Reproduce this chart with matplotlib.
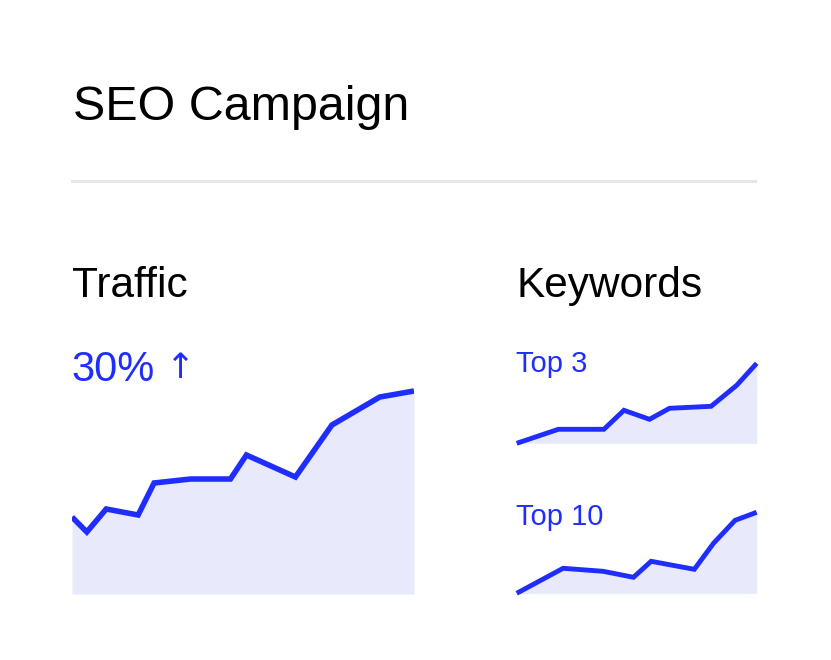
import matplotlib
matplotlib.use("Agg")
import matplotlib.pyplot as plt
from matplotlib.lines import Line2D

plt.rcParams['font.family'] = ['Liberation Sans', 'DejaVu Sans']

# ---- data ----
title = "SEO Campaign"
traffic_label = "Traffic"
traffic_change = "30%"
traffic_arrow = "↑"
keywords_label = "Keywords"

traffic_days = [0, 1.3, 3.0, 5.8, 7.2, 10.4, 13.9, 15.3, 19.6, 22.8, 27.0, 30]
traffic_vals = [77, 62, 85, 79, 111, 115, 115, 139, 117, 169, 197, 203]

top3_label = "Top 3"
top3_days = [0, 5.2, 10.9, 13.4, 16.6, 19.1, 24.3, 27.5, 30]
top3_vals = [0, 14, 14, 33, 24, 35, 37, 58, 80]

top10_label = "Top 10"
top10_days = [0, 5.8, 10.8, 14.6, 16.8, 22.2, 24.6, 27.3, 30]
top10_vals = [0, 25, 22, 16, 32, 24, 50, 73, 81]

BLUE = '#1f2eff'
FILL = '#e8e9fa'

W, H = 831, 660
fig = plt.figure(figsize=(W / 100, H / 100), dpi=100)
fig.patch.set_facecolor('white')


def px_axes(x0, x1, ybottom, ytop):
    return fig.add_axes([x0 / W, (H - ybottom) / H, (x1 - x0) / W, (ybottom - ytop) / H])


def spark(ax, xs, ys, ymax, lw, clip):
    ax.fill_between(xs, 0, ys, color=FILL, linewidth=0)
    ax.plot(xs, ys, color=BLUE, linewidth=lw, solid_capstyle='butt',
            solid_joinstyle='miter', clip_on=clip)
    ax.set_xlim(0, 30)
    ax.set_ylim(0, ymax)
    ax.axis('off')


ax_t = px_axes(72, 414, 594, 380)
spark(ax_t, traffic_days, traffic_vals, 214, 4.0, True)

ax_3 = px_axes(516.7, 756.7, 443.3, 358.3)
spark(ax_3, top3_days, top3_vals, 85, 3.5, False)

ax_10 = px_axes(516.7, 756.7, 593.3, 508.3)
spark(ax_10, top10_days, top10_vals, 85, 3.5, False)


def ptext(x, y, s, size, color='black', family=None):
    kw = {}
    if family:
        kw['family'] = family
    fig.text(x / W, (H - y) / H, s, fontsize=size, color=color, ha='left', va='baseline', **kw)


ptext(73, 120, title, 34.8)
fig.add_artist(Line2D([72 / W, 755 / W], [(H - 181) / H] * 2, color='#e6e7eb', linewidth=2.2))
ptext(72, 297, traffic_label, 30.5)
ptext(516, 297, keywords_label, 30.5)
ptext(71, 381, traffic_change, 30, BLUE)
ptext(166, 378, traffic_arrow, 25, BLUE, ['DejaVu Sans'])
ptext(516, 372, top3_label, 21, BLUE)
ptext(516, 525, top10_label, 21, BLUE)

fig.savefig('out.png', dpi=100, facecolor='white')
